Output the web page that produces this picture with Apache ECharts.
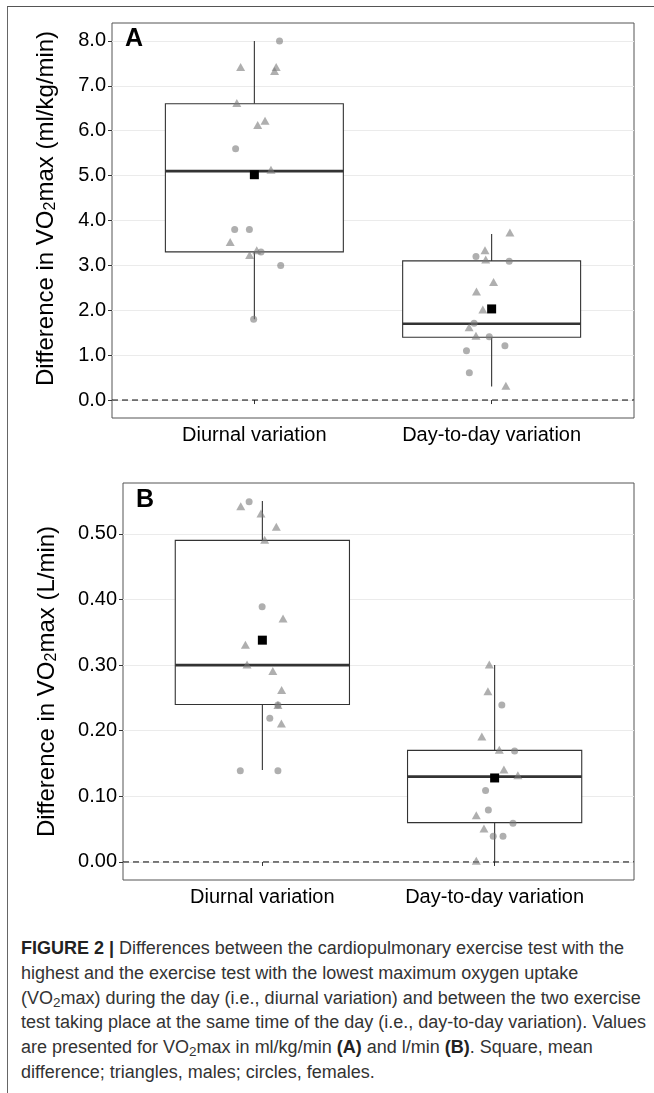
<!DOCTYPE html>
<html>
<head>
<meta charset="utf-8">
<script src="https://cdn.jsdelivr.net/npm/echarts@6/dist/echarts.min.js"></script>
<style>
  html, body { margin:0; padding:0; background:#fff; }
  body { width:654px; height:1093px; position:relative; overflow:hidden; }
  #frame { position:absolute; left:7px; top:6px; right:0; bottom:0; border-top:1px solid #555; border-left:1px solid #666; }
  #chart { position:absolute; left:0; top:0; width:654px; height:910px; }
  #caption {
    position:absolute; left:21px; top:936px; white-space:nowrap;
    font-family:'Liberation Sans',Arial,sans-serif;
    font-size:18px; line-height:24.8px; color:#333;
  }
  #caption b { color:#222; }
  #caption sub { font-size:0.75em; vertical-align:-0.25em; line-height:0; }
</style>
</head>
<body>
<div id="frame"></div>
<div id="chart"></div>
<div id="caption"><b>FIGURE 2 |</b> Differences between the cardiopulmonary exercise test with the<br>highest and the exercise test with the lowest maximum oxygen uptake<br>(VO<sub>2</sub>max) during the day (i.e., diurnal variation) and between the two exercise<br>test taking place at the same time of the day (i.e., day-to-day variation). Values<br>are presented for VO<sub>2</sub>max in ml/kg/min <b>(A)</b> and l/min <b>(B)</b>. Square, mean<br>difference; triangles, males; circles, females.</div>
<script>
// ======== データ ========
const groups = ['Diurnal variation', 'Day-to-day variation'];
const ticksA = [0, 1, 2, 3, 4, 5, 6, 7, 8];
const ticksB = [0, 0.1, 0.2, 0.3, 0.4, 0.5];

// 箱ひげ: [x, min, Q1, median, Q3, max]
const boxA = [[1, 1.8, 3.3, 5.1, 6.6, 8.0], [2, 0.3, 1.4, 1.7, 3.1, 3.7]];
const boxB = [[1, 0.14, 0.24, 0.30, 0.49, 0.55], [2, 0.0, 0.06, 0.13, 0.17, 0.30]];
const meanA = [[1, 5.02], [2, 2.03]];
const meanB = [[1, 0.338], [2, 0.128]];

// 個別データ（x はジッター込み）
const malesA = [
  [0.942, 7.42], [1.092, 7.42], [1.085, 7.33], [0.926, 6.62], [1.014, 6.13], [1.045, 6.22],
  [1.070, 5.13], [0.898, 3.52], [0.980, 3.23], [1.010, 3.34],
  [2.077, 3.73], [1.972, 3.34], [1.975, 3.13], [2.008, 2.63], [1.936, 2.42], [1.963, 2.02],
  [1.905, 1.62], [1.934, 1.43], [2.060, 0.32]
];
const femalesA = [
  [1.106, 8.0], [0.921, 5.60], [0.917, 3.80], [0.979, 3.80], [1.028, 3.30], [1.111, 3.0], [0.997, 1.80],
  [1.934, 3.20], [2.074, 3.09], [1.926, 1.71], [1.990, 1.41], [2.056, 1.21], [1.894, 1.10], [1.906, 0.61]
];
const malesB = [
  [0.907, 0.542], [0.994, 0.531], [1.060, 0.511], [1.010, 0.491], [1.089, 0.371], [0.927, 0.331],
  [0.934, 0.301], [1.045, 0.291], [1.083, 0.262], [1.067, 0.239], [1.082, 0.211],
  [1.977, 0.301], [1.971, 0.260], [1.945, 0.191], [2.020, 0.171], [2.040, 0.141], [2.100, 0.132],
  [1.921, 0.071], [1.954, 0.051], [1.921, 0.002]
];
const femalesB = [
  [0.943, 0.549], [0.999, 0.389], [1.067, 0.239], [1.032, 0.219], [0.905, 0.139], [1.067, 0.139],
  [2.031, 0.239], [2.086, 0.169], [1.961, 0.109], [1.973, 0.079], [2.079, 0.059], [1.994, 0.039], [2.036, 0.039]
];

// ======== スタイル ========
const FONT = "'Liberation Sans', Arial, sans-serif";
const BOX_WIDTH = 0.75;
const POINT_COLOR = '#7a7a7a';

function renderBox(params, api){
  const x = api.value(0), lo = api.value(1), q1 = api.value(2), med = api.value(3), q3 = api.value(4), hi = api.value(5);
  const half = BOX_WIDTH / 2;
  const tl = api.coord([x - half, q3]);
  const br = api.coord([x + half, q1]);
  const m = api.coord([x, med]);
  const top = api.coord([x, hi]);
  const bot = api.coord([x, lo]);
  const ls = { stroke:'#333', lineWidth:1.1 };
  return { type:'group', children:[
    { type:'line', shape:{ x1:top[0], y1:top[1], x2:top[0], y2:tl[1] }, style:ls },
    { type:'line', shape:{ x1:bot[0], y1:br[1], x2:bot[0], y2:bot[1] }, style:ls },
    { type:'rect', shape:{ x:tl[0], y:tl[1], width:br[0]-tl[0], height:br[1]-tl[1] }, style:{ fill:'#fff', stroke:'#333', lineWidth:1.1 } },
    { type:'line', shape:{ x1:tl[0], y1:m[1], x2:br[0], y2:m[1] }, style:{ stroke:'#333', lineWidth:2.6 } }
  ]};
}

function xAxisFor(gi){
  return {
    type:'value', gridIndex:gi, min:0.4, max:2.6,
    axisLine:{ show:false },
    axisTick:{ show:true, length:4, customValues:[1, 2], lineStyle:{ color:'#333' } },
    axisLabel:{ customValues:[1, 2], formatter:(v)=> groups[Math.round(v)-1], fontSize:20, color:'#000', fontFamily:FONT, margin:7 },
    splitLine:{ show:false }
  };
}
function yAxisFor(gi, min, max, ticks, digits, nameText, gap, shift){
  return {
    type:'value', gridIndex:gi, min:min, max:max,
    axisLine:{ show:false },
    axisTick:{ show:true, length:4, customValues:ticks, lineStyle:{ color:'#333' } },
    axisLabel:{ customValues:ticks, formatter:(v)=> v.toFixed(digits), fontSize:20, color:'#000', fontFamily:FONT, margin:6 },
    splitLine:{ show:true, lineStyle:{ color:'#ebebeb', width:1 } },
    name:nameText, nameLocation:'middle', nameRotate:90, nameGap:gap,
    nameTextStyle:{ fontSize:24, color:'#000', fontFamily:FONT, padding:[0, 0, 0, shift],
      rich:{ sub:{ fontSize:16, fontFamily:FONT, color:'#000', verticalAlign:'bottom', padding:[10,0,0,0] } } }
  };
}

function zeroLine(gi){
  return { type:'line', xAxisIndex:gi, yAxisIndex:gi, data:[[0.4, 0], [2.6, 0]], symbol:'none', silent:true,
    lineStyle:{ color:'#000', width:1, type:[6, 4] }, z:1 };
}
function boxSeries(gi, data){
  return { type:'custom', xAxisIndex:gi, yAxisIndex:gi, data:data, renderItem:renderBox, encode:{ x:0, y:[1,2,3,4,5] }, z:2 };
}
function pointSeries(gi, data, symbol, size){
  return { type:'scatter', xAxisIndex:gi, yAxisIndex:gi, data:data, symbol:symbol, symbolSize:size,
    itemStyle:{ color:POINT_COLOR, opacity:0.6 }, z:3 };
}
function meanSeries(gi, data){
  return { type:'scatter', xAxisIndex:gi, yAxisIndex:gi, data:data, symbol:'rect', symbolSize:9,
    itemStyle:{ color:'#000', opacity:1 }, z:4 };
}

const chart = echarts.init(document.getElementById('chart'));
chart.setOption({
  animation:false,
  textStyle:{ fontFamily:FONT },
  title:[
    { text:'A', left:125, top:27, padding:0, textStyle:{ fontSize:25, fontWeight:'bold', color:'#000', fontFamily:FONT } },
    { text:'B', left:136, top:488, padding:0, textStyle:{ fontSize:25, fontWeight:'bold', color:'#000', fontFamily:FONT } }
  ],
  grid:[
    { left:112, top:23, width:522, height:395, show:true, borderColor:'#555', borderWidth:1, backgroundColor:'#fff' },
    { left:123, top:483, width:511, height:397, show:true, borderColor:'#555', borderWidth:1, backgroundColor:'#fff' }
  ],
  xAxis:[ xAxisFor(0), xAxisFor(1) ],
  yAxis:[
    yAxisFor(0, -0.4, 8.4, ticksA, 1, 'Difference in VO{sub|2}max (ml/kg/min)', 53, 24),
    yAxisFor(1, -0.0275, 0.5775, ticksB, 2, 'Difference in VO{sub|2}max (L/min)', 63, 0)
  ],
  series:[
    zeroLine(0), boxSeries(0, boxA), pointSeries(0, femalesA, 'circle', 7), pointSeries(0, malesA, 'triangle', [9, 8]), meanSeries(0, meanA),
    zeroLine(1), boxSeries(1, boxB), pointSeries(1, femalesB, 'circle', 7), pointSeries(1, malesB, 'triangle', [9, 8]), meanSeries(1, meanB)
  ]
});
</script>
</body>
</html>
